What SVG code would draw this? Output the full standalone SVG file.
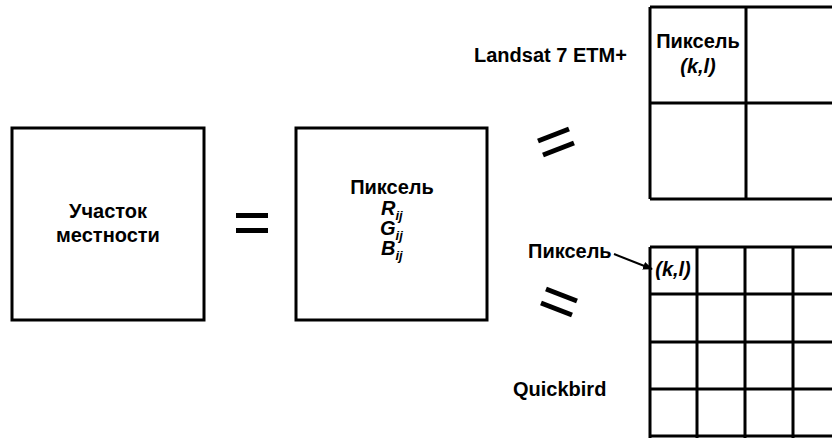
<svg xmlns="http://www.w3.org/2000/svg" width="832" height="438" viewBox="0 0 832 438">
<defs>
<style>
.box{fill:#fff;stroke:#000;stroke-width:3}
.grid{fill:none;stroke:#000;stroke-width:3}
.bar{stroke:#000;stroke-width:5;stroke-linecap:butt}
.t{font-family:"Liberation Sans",Arial,sans-serif;font-weight:bold;font-size:20px;fill:#000}
.i{font-style:italic}
.sub{font-size:13px}
</style>
<marker id="ah" markerWidth="10" markerHeight="8" refX="9" refY="4" orient="auto" markerUnits="userSpaceOnUse">
<path d="M0,0 L10,4 L0,8 Z" fill="#000"/>
</marker>
</defs>
<rect width="832" height="438" fill="#fff"/>
<g id="area">
<rect class="box" x="12" y="128" width="192" height="192"/>
<text class="t" x="108" y="218" text-anchor="middle">Участок</text>
<text class="t" x="108" y="242" text-anchor="middle">местности</text>
</g>
<g id="eq-main">
<line class="bar" x1="236" y1="215.5" x2="268" y2="215.5"/>
<line class="bar" x1="236" y1="230.5" x2="268" y2="230.5"/>
</g>
<g id="pixel">
<rect class="box" x="296" y="128" width="191" height="192"/>
<text class="t" x="392" y="194" text-anchor="middle">Пиксель</text>
<text class="t i" x="381" y="215">R<tspan class="sub" dy="5">ij</tspan></text>
<text class="t i" x="380" y="235">G<tspan class="sub" dy="5">ij</tspan></text>
<text class="t i" x="381" y="255">B<tspan class="sub" dy="5">ij</tspan></text>
</g>
<g id="eq-landsat">
<line class="bar" x1="538" y1="141" x2="569" y2="129"/>
<line class="bar" x1="543" y1="155" x2="574" y2="143"/>
</g>
<g id="eq-quickbird">
<line class="bar" x1="546" y1="289" x2="577" y2="301"/>
<line class="bar" x1="541" y1="303" x2="572" y2="315"/>
</g>
<g id="landsat">
<text class="t" x="474" y="62">Landsat 7 ETM+</text>
<path class="grid" d="M650,7 H840 M650,103 H840 M650,199 H840 M650,7 V199 M746,7 V199"/>
<text class="t" x="698" y="48" text-anchor="middle">Пиксель</text>
<text class="t i" x="698" y="73" text-anchor="middle">(k,l)</text>
</g>
<g id="quickbird">
<text class="t" x="513" y="396">Quickbird</text>
<path class="grid" d="M650,247 H840 M650,294 H840 M650,342 H840 M650,389 H840 M650,436 H840 M650,247 V440 M697,247 V440 M745,247 V440 M793,247 V440"/>
<text class="t i" x="673" y="276" text-anchor="middle">(k,l)</text>
<text class="t" x="528" y="258">Пиксель</text>
</g>
<g id="connectors">
<line x1="614" y1="254" x2="652" y2="269" stroke="#000" stroke-width="2" marker-end="url(#ah)"/>
</g>
</svg>
